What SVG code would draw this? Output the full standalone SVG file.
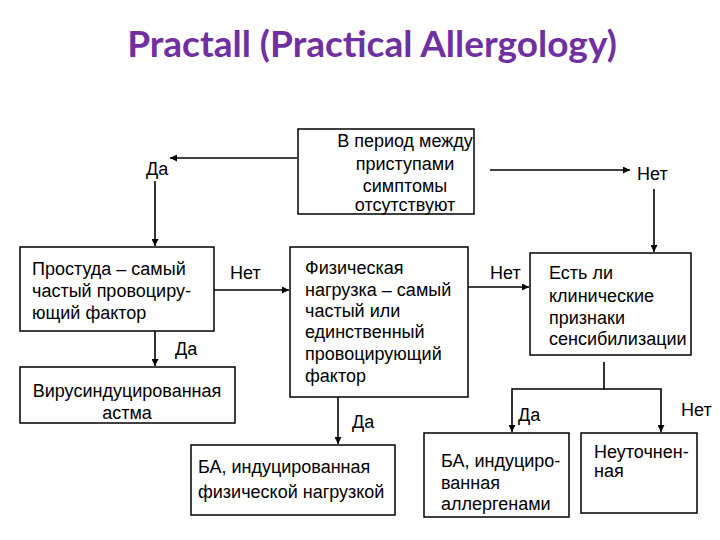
<svg xmlns="http://www.w3.org/2000/svg" width="720" height="540" viewBox="0 0 720 540">
<style>
.box{fill:#fff;stroke:#000;stroke-width:1.5}
.t{font-family:"Liberation Sans",Arial,sans-serif;font-size:18px;fill:#000}
.c{text-anchor:middle}
.ln{stroke:#000;stroke-width:1.6;fill:none}
.title{font-family:Lato,"Liberation Sans",sans-serif;font-weight:bold;font-size:37px;fill:#7030A0}
</style>
<defs>
<marker id="ah" viewBox="0 0 10 10" refX="10" refY="5" markerWidth="7" markerHeight="7" markerUnits="userSpaceOnUse" orient="auto">
<path d="M0,0 L10,5 L0,10 z" fill="#000"/>
</marker>
</defs>
<rect width="720" height="540" fill="#fff"/>
<text class="title" x="372" y="57" text-anchor="middle">Practall (Practical Allergology)</text>

<g id="connectors">
<line class="ln" x1="297" y1="158" x2="170" y2="158" marker-end="url(#ah)"/>
<line class="ln" x1="490" y1="170" x2="630" y2="170" marker-end="url(#ah)"/>
<line class="ln" x1="155" y1="181" x2="155" y2="246" marker-end="url(#ah)"/>
<line class="ln" x1="654" y1="189" x2="654" y2="252" marker-end="url(#ah)"/>
<line class="ln" x1="214" y1="290" x2="289" y2="290" marker-end="url(#ah)"/>
<line class="ln" x1="468" y1="287" x2="529" y2="287" marker-end="url(#ah)"/>
<line class="ln" x1="155" y1="331" x2="155" y2="366" marker-end="url(#ah)"/>
<line class="ln" x1="338" y1="397" x2="338" y2="444" marker-end="url(#ah)"/>
<polyline class="ln" points="604,362 604,389 512,389 512,432" marker-end="url(#ah)"/>
<polyline class="ln" points="604,389 661,389 661,432" marker-end="url(#ah)"/>
<text class="t" x="146" y="175">Да</text>
<text class="t" x="637" y="180">Нет</text>
<text class="t" x="230" y="279">Нет</text>
<text class="t" x="490" y="279">Нет</text>
<text class="t" x="175" y="355">Да</text>
<text class="t" x="352" y="428">Да</text>
<text class="t" x="518" y="421">Да</text>
<text class="t" x="681" y="416">Нет</text>
</g>

<g id="n-top">
<rect class="box" x="298" y="129" width="176" height="85"/>
<text class="t c" x="405" y="147">В период между</text>
<text class="t c" x="405" y="170">приступами</text>
<text class="t c" x="405" y="192">симптомы</text>
<text class="t c" x="405" y="211">отсутствуют</text>
</g>

<g id="n-cold">
<rect class="box" x="20" y="247" width="194" height="84"/>
<text class="t" x="32" y="275">Простуда – самый</text>
<text class="t" x="32" y="297">частый провоциру-</text>
<text class="t" x="32" y="319">ющий фактор</text>
</g>

<g id="n-exercise">
<rect class="box" x="290" y="247" width="178" height="150"/>
<text class="t" x="305" y="274">Физическая</text>
<text class="t" x="305" y="296">нагрузка – самый</text>
<text class="t" x="305" y="317">частый или</text>
<text class="t" x="305" y="338">единственный</text>
<text class="t" x="305" y="360">провоцирующий</text>
<text class="t" x="305" y="382">фактор</text>
</g>

<g id="n-sens">
<rect class="box" x="530" y="253" width="161" height="102"/>
<text class="t" x="549" y="279">Есть ли</text>
<text class="t" x="549" y="302">клинические</text>
<text class="t" x="549" y="324">признаки</text>
<text class="t" x="549" y="345">сенсибилизации</text>
</g>

<g id="n-viral">
<rect class="box" x="20" y="367" width="215" height="56"/>
<text class="t c" x="127" y="397">Вирусиндуцированная</text>
<text class="t c" x="127" y="419">астма</text>
</g>

<g id="n-eia">
<rect class="box" x="191" y="445" width="204" height="70"/>
<text class="t" x="198" y="473">БА, индуцированная</text>
<text class="t" x="198" y="498">физической нагрузкой</text>
</g>

<g id="n-allergen">
<rect class="box" x="424" y="433" width="145" height="84"/>
<text class="t" x="441" y="467">БА, индуциро-</text>
<text class="t" x="441" y="489">ванная</text>
<text class="t" x="441" y="510">аллергенами</text>
</g>

<g id="n-unspec">
<rect class="box" x="581" y="433" width="116" height="80"/>
<text class="t" x="594" y="458">Неуточнен-</text>
<text class="t" x="594" y="477">ная</text>
</g>
</svg>
